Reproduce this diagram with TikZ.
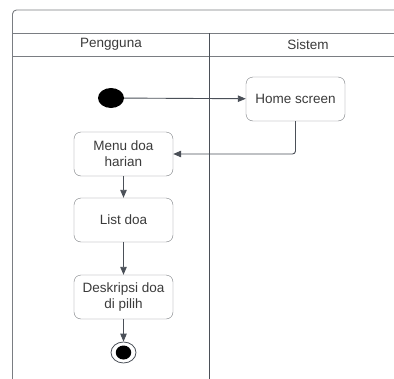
\documentclass[tikz,border=0pt]{standalone}
\usepackage{fontspec}
\setmainfont{Liberation Sans}
\usetikzlibrary{arrows.meta}
\usetikzlibrary{shapes.geometric}

\definecolor{framegray}{HTML}{7A7D82}
\definecolor{linegray}{HTML}{4B5058}
\definecolor{textgray}{HTML}{3B3B3B}

\begin{document}
\begin{tikzpicture}[x=1pt,y=-1pt,
    activity/.style={draw=framegray, rounded corners=7pt, minimum width=99pt,
      minimum height=44pt, align=center, text=textgray, inner sep=2pt,
      font=\fontsize{13.5}{16}\selectfont},
    lanetitle/.style={text=textgray, font=\fontsize{13.5}{16}\selectfont},
    flow/.style={draw=linegray, line width=0.9pt, -{Triangle[length=8pt,width=6.5pt]}}]
      \def\lanetop{33}
      \def\lanehead{56}

      \clip (0,0) rectangle (394,378);
      \fill[white] (0,0) rectangle (394,378);

      % swimlane frame
      \draw[framegray, line width=0.9pt, rounded corners=4pt] (12.5,390) -- (12.5,10) -- (410,10);
      \draw[framegray, line width=0.9pt] (12.5,\lanetop) -- (410,\lanetop);
      \draw[framegray, line width=0.9pt] (12.5,\lanehead) -- (410,\lanehead);
      \draw[linegray, line width=0.9pt] (209,\lanetop) -- (209,390);
      \node[lanetitle] (pengguna) at (111,44.5) {Pengguna};
      \node[lanetitle] (sistem) at (308,44.5) {Sistem};

      % activities
      \node[ellipse, fill=black, minimum width=26pt, minimum height=20pt, inner sep=0pt] (start) at (111,98) {};
      \node[activity] (home) at (295.5,99) {Home screen};
      \node[activity] (menu) at (123.5,154) {Menu doa\\harian};
      \node[activity] (list) at (123.5,220) {List doa};
      \node[activity] (deskripsi) at (123.5,297) {Deskripsi doa\\di pilih};
      \node[ellipse, draw=linegray, line width=0.8pt, minimum width=25pt, minimum height=21pt, inner sep=0pt] (end) at (123.5,352.5) {};
      \node[ellipse, fill=black, minimum width=15.5pt, minimum height=14pt, inner sep=0pt] (endcore) at (end.center) {};

      % transitions
      \draw[flow] (start) -- (home);
      \draw[flow, rounded corners=3pt] (home.south) |- (menu.east);
      \draw[flow] (menu) -- (list);
      \draw[flow] (list) -- (deskripsi);
      \draw[flow] (deskripsi) -- (end);

    \end{tikzpicture}
\end{document}
